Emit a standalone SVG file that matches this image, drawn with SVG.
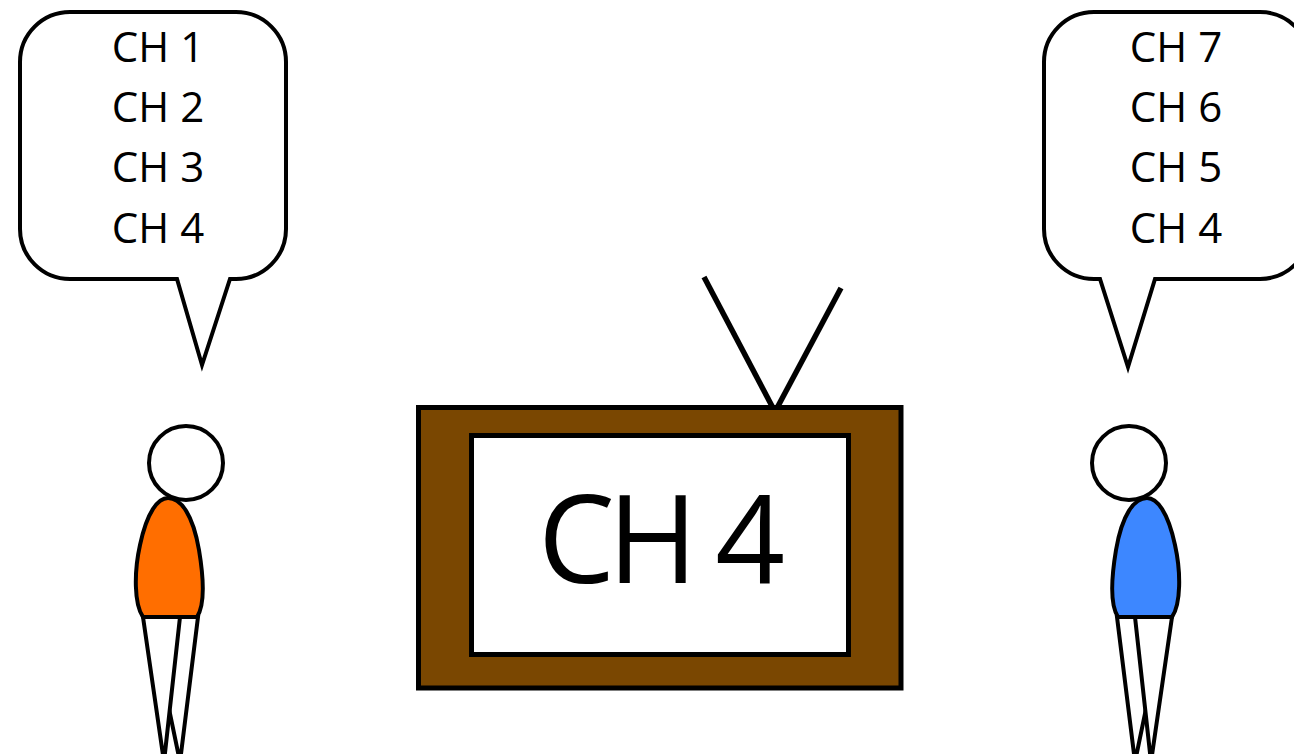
<svg xmlns="http://www.w3.org/2000/svg" width="1294" height="754" viewBox="0 0 1294 754">
  <style>
    .ink { stroke: #000; stroke-width: 4; stroke-linejoin: miter; stroke-miterlimit: 10; }
    .bubble { fill: #fff; }
    .leg { fill: #fff; }
    .head { fill: #fff; }
    .label { font-family: "Open Sans", "Liberation Sans", sans-serif; font-size: 42px; fill: #000; text-anchor: middle; }
    .screen-label { font-family: "Open Sans", "Liberation Sans", sans-serif; font-size: 122px; fill: #000; text-anchor: middle; }
  </style>
  <defs>
    <!-- stick figure shared by both viewers; shirt colour set per use -->
    <g id="figure">
      <polygon class="ink leg" points="150,617 198,617 180,762"/>
      <polygon class="ink leg" points="143,617 180,617 164,762"/>
      <path class="ink" d="M143,617 C134,604 134,572 140,545 C147,512 158,498 168,498 C181,498 193,515 199,550 C204,580 205,605 197,617 Z"/>
      <circle class="ink head" cx="186" cy="463" r="37"/>
    </g>
  </defs>
  <rect width="1294" height="754" fill="#fff"/>

  <!-- left speech bubble -->
  <g id="bubble-left">
    <path class="ink bubble" d="M70,12 H236 A50,50 0 0 1 286,62 V229 A50,50 0 0 1 236,279 H230 L202,365 L177,279 H70 A50,50 0 0 1 20,229 V62 A50,50 0 0 1 70,12 Z"/>
    <text class="label" x="158" y="62">CH 1</text>
    <text class="label" x="158" y="122">CH 2</text>
    <text class="label" x="158" y="182">CH 3</text>
    <text class="label" x="158" y="243">CH 4</text>
  </g>

  <!-- right speech bubble -->
  <g id="bubble-right">
    <path class="ink bubble" d="M1094,12 H1260 A50,50 0 0 1 1310,62 V229 A50,50 0 0 1 1260,279 H1155 L1128,367 L1100,279 H1094 A50,50 0 0 1 1044,229 V62 A50,50 0 0 1 1094,12 Z"/>
    <text class="label" x="1176" y="62">CH 7</text>
    <text class="label" x="1176" y="122">CH 6</text>
    <text class="label" x="1176" y="182">CH 5</text>
    <text class="label" x="1176" y="243">CH 4</text>
  </g>

  <!-- television -->
  <g id="tv">
    <line x1="704" y1="277" x2="773" y2="408" stroke="#000" stroke-width="5.5"/>
    <line x1="841" y1="288" x2="777" y2="408" stroke="#000" stroke-width="5.5"/>
    <rect x="418.5" y="407.5" width="482.5" height="280.5" fill="#7A4701" stroke="#000" stroke-width="5"/>
    <rect x="471.5" y="435.5" width="377" height="219" fill="#fff" stroke="#000" stroke-width="5"/>
    <text class="screen-label" x="661.5" y="583" textLength="247" lengthAdjust="spacing">CH 4</text>
  </g>

  <!-- viewers -->
  <g id="viewer-left" fill="#FF6E00">
    <use href="#figure"/>
  </g>
  <g id="viewer-right" fill="#3D87FF" transform="matrix(-1 0 0 1 1315 0)">
    <use href="#figure"/>
  </g>
</svg>
